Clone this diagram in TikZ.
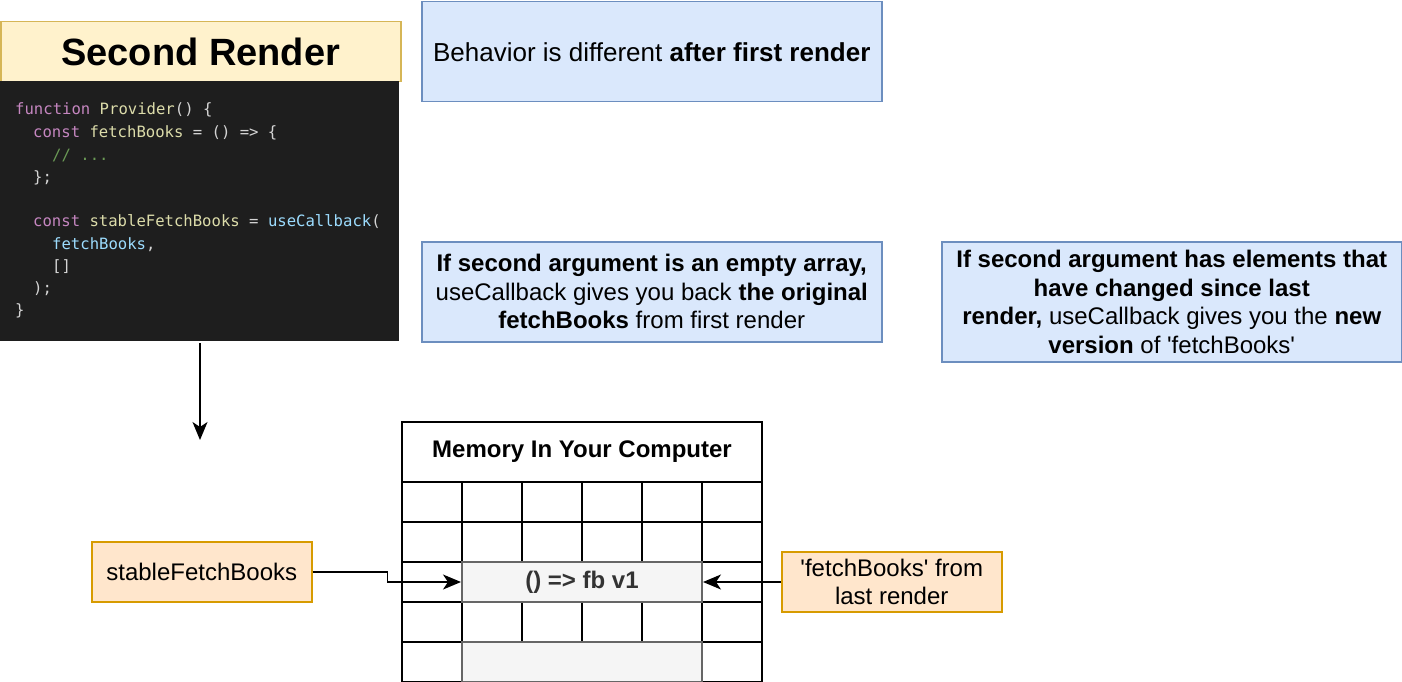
\documentclass[tikz,border=0pt]{standalone}
\usepackage{fontspec}
\setmainfont{Liberation Sans}
\newfontfamily\codefont{DejaVu Sans Mono}
\usetikzlibrary{arrows.meta}
\definecolor{titlefill}{HTML}{FFF2CC}
\definecolor{titledraw}{HTML}{D6B656}
\definecolor{bluefill}{HTML}{DAE8FC}
\definecolor{bluedraw}{HTML}{6C8EBF}
\definecolor{orfill}{HTML}{FFE6CC}
\definecolor{ordraw}{HTML}{D79B00}
\definecolor{grayfill}{HTML}{F5F5F5}
\definecolor{graydraw}{HTML}{666666}
\definecolor{graytext}{HTML}{333333}
\definecolor{codebg}{HTML}{1E1E1E}
\definecolor{ckw}{HTML}{C586C0}
\definecolor{cfn}{HTML}{DCDCAA}
\definecolor{cvar}{HTML}{9CDCFE}
\definecolor{ccom}{HTML}{6A9955}
\definecolor{cpun}{HTML}{D4D4D4}
\newcommand{\bodyfont}{\fontsize{24}{28.6}\selectfont}
\tikzset{
  bluebox/.style={draw=bluedraw, fill=bluefill, line width=1.5pt, inner sep=0pt, align=center, font=\bodyfont},
  orbox/.style={draw=ordraw, fill=orfill, line width=1.5pt, inner sep=0pt, align=center, font=\bodyfont},
  cell/.style={draw=black, line width=2pt, minimum width=60pt, minimum height=40pt, inner sep=0pt, anchor=north west},
  graycell/.style={draw=graydraw, fill=grayfill, line width=2pt, minimum width=240pt, minimum height=40pt, inner sep=0pt, anchor=north west, font=\bodyfont\bfseries, text=graytext},
  codeline/.style={anchor=base west, inner sep=0pt, font=\codefont\fontsize{15.6}{18}\selectfont},
  conn/.style={draw=black, line width=1.8pt, -{Stealth[length=18pt,width=15pt,inset=5pt]}}
}
\begin{document}
\begin{tikzpicture}[x=1pt,y=-1pt]
\useasboundingbox (0,0) rectangle (1402,682);
% title
\node[draw=titledraw, fill=titlefill, line width=1.5pt, minimum width=400pt, minimum height=60pt, inner sep=0pt, anchor=north west, font=\fontsize{38}{40}\selectfont\bfseries] (title) at (0,21) {Second Render};
% code block
\node[fill=codebg, minimum width=399pt, minimum height=260pt, inner sep=0pt, anchor=north west] (code) at (0,81) {};
\node[codeline] (l1) at (15,114) {\textcolor{ckw}{function} \textcolor{cfn}{Provider}\textcolor{cpun}{() \{}};
\node[codeline] (l2) at (33,137) {\textcolor{ckw}{const} \textcolor{cfn}{fetchBooks} \textcolor{cpun}{= () => \{}};
\node[codeline] (l3) at (52,160) {\textcolor{ccom}{// ...}};
\node[codeline] (l4) at (33,182) {\textcolor{cpun}{\};}};
\node[codeline] (l5) at (33,226) {\textcolor{ckw}{const} \textcolor{cfn}{stableFetchBooks} \textcolor{cpun}{=} \textcolor{cvar}{useCallback}\textcolor{cpun}{(}};
\node[codeline] (l6) at (52,249) {\textcolor{cvar}{fetchBooks}\textcolor{cpun}{,}};
\node[codeline] (l7) at (52,271) {\textcolor{cpun}{[]}};
\node[codeline] (l8) at (33,293) {\textcolor{cpun}{);}};
\node[codeline] (l9) at (15,315) {\textcolor{cpun}{\}}};
\coordinate (arrstart) at (200,343);
\coordinate (arrend) at (200,440);
\draw[conn] (arrstart) -- (arrend);
% blue boxes
\node[bluebox, minimum width=460pt, minimum height=100pt, anchor=north west, font=\fontsize{26}{30}\selectfont] (b1) at (421,1) {Behavior is different \textbf{after first render}};
\node[bluebox, minimum width=460pt, minimum height=100pt, anchor=north west] (b2) at (421,241) {\textbf{If second argument is an empty array,}\\useCallback gives you back \textbf{the original}\\\textbf{fetchBooks} from first render};
\node[bluebox, minimum width=460pt, minimum height=120pt, anchor=north west] (b3) at (941,241) {\textbf{If second argument has elements that}\\\textbf{have changed since last}\\\textbf{render,} useCallback gives you the \textbf{new}\\\textbf{version} of \textquotesingle fetchBooks\textquotesingle};
% memory table
\node[draw=black, line width=2pt, minimum width=360pt, minimum height=60pt, inner sep=0pt, anchor=north west, font=\bodyfont\bfseries] (mem) at (401,421) {Memory In Your Computer};
\foreach \r in {0,1,3} {
  \foreach \c in {0,...,5} {
    \node[cell] (c\r\c) at ({401+60*\c},{481+40*\r}) {};
  }
}
\foreach \r in {2,4} {
  \node[cell] (c\r0) at (401,{481+40*\r}) {};
  \node[cell] (c\r5) at (701,{481+40*\r}) {};
}
\node[graycell] (fbv1) at (461,561) {() => fb v1};
\node[graycell] (empty) at (461,641) {};
% orange boxes
\node[orbox, minimum width=220pt, minimum height=60pt, anchor=north west] (stable) at (91,541) {stableFetchBooks};
\node[orbox, minimum width=220pt, minimum height=60pt, anchor=north west] (last) at (781,551) {\textquotesingle fetchBooks\textquotesingle\ from\\last render};
% connectors
\draw[conn] (stable.east) -- ++(75,0) |- (fbv1.west);
\draw[conn] (last.west |- fbv1.east) -- (fbv1.east);
\end{tikzpicture}
\end{document}
